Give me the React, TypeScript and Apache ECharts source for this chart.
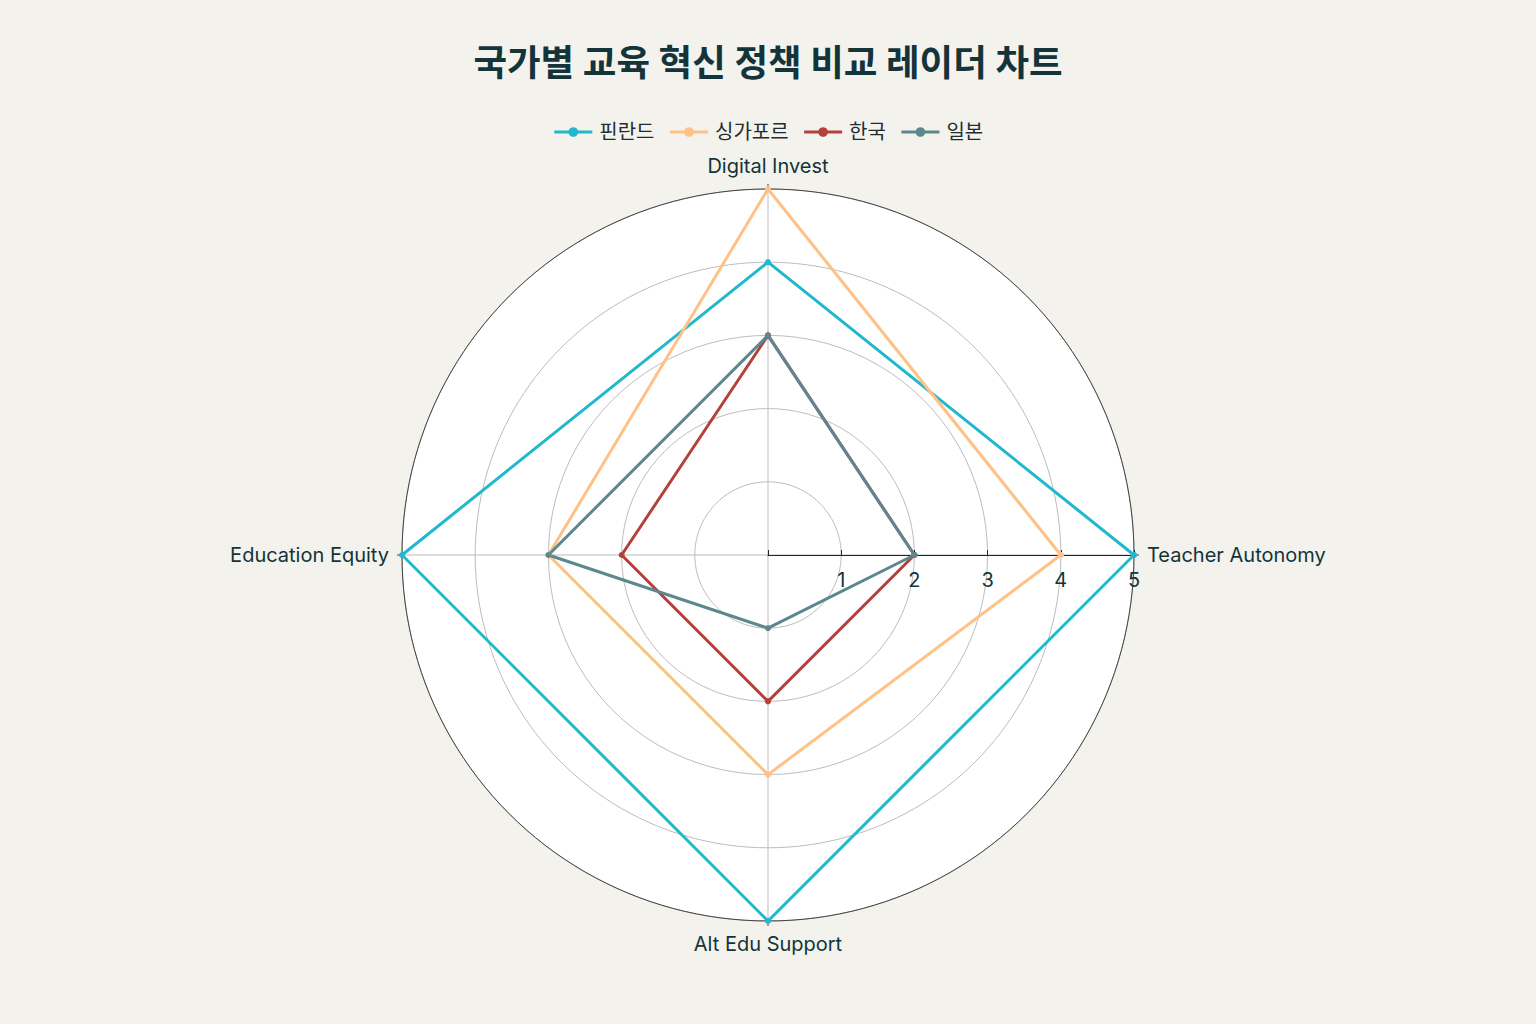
import React, { useEffect, useRef } from "react";
import * as echarts from "echarts";

const titleText = "국가별 교육 혁신 정책 비교 레이더 차트";
const indicators = ["Teacher Autonomy", "Digital Invest", "Education Equity", "Alt Edu Support"];
const seriesNames = ["핀란드", "싱가포르", "한국", "일본"];
const finland = [5, 4, 5, 5];
const singapore = [4, 5, 3, 3];
const korea = [2, 3, 2, 2];
const japan = [2, 3, 3, 1];
const radiusTicks = [0, 1, 2, 3, 4, 5];
const colors = ["#1FB8CD", "#FFC185", "#B4413C", "#5D878F"];

const FONT = "Inter, 'Noto Sans CJK KR', sans-serif";
const CX = 768;
const CY = 555;
const R = 366;

function toPolar(vals: number[]) {
  const step = 360 / indicators.length;
  const pts = vals.map((v, i) => [v, i * step]);
  pts.push([vals[0], 360]);
  return pts;
}

export default function App() {
  const ref = useRef<HTMLDivElement>(null);
  useEffect(() => {
    if (!ref.current) return;
    const chart = echarts.init(ref.current, undefined, { renderer: "svg" });
    const allVals = [finland, singapore, korea, japan];
    chart.setOption({
      animation: false,
      backgroundColor: "#F3F2EC",
      title: {
        text: titleText,
        left: "center",
        top: 40,
        textStyle: { fontFamily: FONT, fontSize: 36.5, fontWeight: "bold", color: "#13343B" },
      },
      legend: {
        top: 117,
        left: "center",
        itemWidth: 38,
        itemHeight: 12,
        itemGap: 14,
        lineStyle: { width: 3 },
        textStyle: { fontFamily: FONT, fontSize: 20, color: "#1F2D30", padding: [0, 0, 0, 2] },
        data: seriesNames,
      },
      graphic: [
        {
          type: "circle",
          z: -1,
          silent: true,
          shape: { cx: CX, cy: CY, r: R },
          style: { fill: "#FFFFFF" },
        },
      ],
      polar: {
        center: [CX, CY],
        radius: R,
      },
      angleAxis: {
        type: "value",
        min: 0,
        max: 360,
        interval: 90,
        startAngle: 0,
        clockwise: false,
        axisLine: { show: true, lineStyle: { color: "#444", width: 1 } },
        axisTick: { show: true, length: 5, lineStyle: { color: "#444" } },
        splitLine: { show: true, lineStyle: { color: "#BDBDBD", width: 1 } },
        axisLabel: {
          margin: 13,
          fontFamily: FONT,
          fontSize: 20,
          color: "#13343B",
          formatter: (v: number) => {
            if (v >= 360) return "";
            return indicators[Math.round(v / 90) % indicators.length];
          },
        },
      },
      radiusAxis: {
        type: "value",
        min: radiusTicks[0],
        max: radiusTicks[radiusTicks.length - 1],
        interval: 1,
        angle: 0,
        axisLine: { show: true, lineStyle: { color: "#222", width: 1 } },
        axisTick: { show: true, inside: true, length: 5, lineStyle: { color: "#222" } },
        splitLine: { show: true, lineStyle: { color: "#BDBDBD", width: 1 } },
        axisLabel: {
          margin: -15,
          verticalAlign: "top",
          fontFamily: FONT,
          fontSize: 20,
          color: "#13343B",
          formatter: (v: number) => (v === 0 ? "" : String(v)),
        },
      },
      series: allVals.map((vals, i) => ({
        name: seriesNames[i],
        type: "line",
        coordinateSystem: "polar",
        data: toPolar(vals),
        symbol: "circle",
        symbolSize: 6,
        color: colors[i],
        lineStyle: { width: 3, color: colors[i] },
        itemStyle: { color: colors[i] },
      })),
    });
    return () => chart.dispose();
  }, []);
  return (
    <div
      ref={ref}
      style={{ position: "fixed", left: 0, top: 0, width: 1536, height: 1024 }}
    />
  );
}
